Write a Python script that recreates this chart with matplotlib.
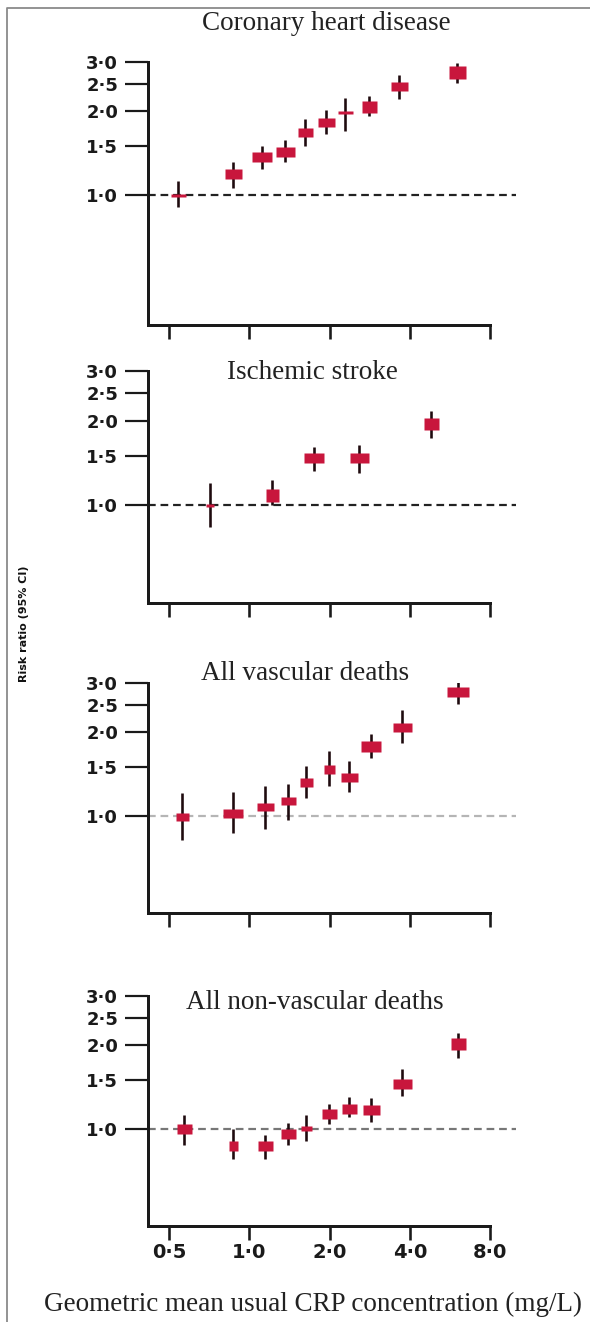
"""
Risk ratio (95% CI) by usual CRP concentration, four panels
"""

import matplotlib
matplotlib.use('Agg')
import matplotlib.pyplot as plt
from matplotlib.ticker import NullLocator
from matplotlib.lines import Line2D

# ---- datos ----
chd_crp = [0.54, 0.87, 1.11, 1.36, 1.61, 1.93, 2.28, 2.82, 3.63, 6.0]
chd_rr = [1.00, 1.19, 1.37, 1.42, 1.68, 1.83, 1.98, 2.07, 2.45, 2.77]
chd_lo = [0.90, 1.06, 1.24, 1.31, 1.50, 1.65, 1.70, 1.92, 2.20, 2.53]
chd_hi = [1.12, 1.31, 1.50, 1.57, 1.87, 2.02, 2.23, 2.26, 2.70, 2.97]
chd_box_w = [15, 17, 20, 19, 15, 17, 15, 15, 17, 17]
chd_box_h = [3, 10, 10, 10, 9, 9, 3, 12, 9, 13]

str_crp = [0.71, 1.21, 1.74, 2.57, 4.79]
str_rr = [1.00, 1.09, 1.47, 1.47, 1.94]
str_lo = [0.84, 1.00, 1.32, 1.30, 1.74]
str_hi = [1.20, 1.23, 1.61, 1.64, 2.17]
str_box_w = [8, 13, 20, 19, 15]
str_box_h = [3, 13, 10, 10, 12]

vas_crp = [0.56, 0.87, 1.14, 1.39, 1.63, 1.99, 2.37, 2.86, 3.75, 6.06]
vas_rr = [0.99, 1.03, 1.08, 1.13, 1.33, 1.48, 1.38, 1.79, 2.09, 2.79]
vas_lo = [0.82, 0.87, 0.90, 0.97, 1.16, 1.28, 1.22, 1.61, 1.83, 2.52]
vas_hi = [1.21, 1.22, 1.28, 1.30, 1.51, 1.71, 1.58, 1.97, 2.41, 3.05]
vas_box_w = [13, 20, 17, 15, 13, 11, 17, 20, 19, 22]
vas_box_h = [8, 9, 8, 8, 9, 9, 9, 11, 9, 10]

nvd_crp = [0.57, 0.87, 1.14, 1.39, 1.63, 1.99, 2.37, 2.86, 3.75, 6.06]
nvd_rr = [1.00, 0.87, 0.87, 0.96, 1.01, 1.13, 1.18, 1.17, 1.45, 2.02]
nvd_lo = [0.88, 0.78, 0.78, 0.88, 0.91, 1.04, 1.11, 1.06, 1.31, 1.80]
nvd_hi = [1.12, 1.00, 0.95, 1.05, 1.12, 1.23, 1.30, 1.29, 1.64, 2.21]
nvd_box_w = [15, 9, 15, 15, 11, 15, 15, 17, 19, 15]
nvd_box_h = [10, 10, 10, 10, 5, 10, 10, 10, 10, 12]

y_ticks = [1.0, 1.5, 2.0, 2.5, 3.0]
y_labels = ['1·0', '1·5', '2·0', '2·5', '3·0']
x_ticks = [0.5, 1.0, 2.0, 4.0, 8.0]
x_labels = ['0·5', '1·0', '2·0', '4·0', '8·0']

ROJO = '#C8163C'
LINEA_IC = '#1e0a0e'
DPI = 100
W, H = 590, 1322


def px(v):
    """pixeles -> puntos"""
    return v * 72 / DPI


def dibujar_panel(ax, crp, rr, lo, hi, bw, bh, ymin, color_ref, etiquetas_x=False):
    ax.set_xscale('log')
    ax.set_yscale('log')
    ax.set_xlim(0.416, 8.0)
    ax.set_ylim(ymin, 3.0)

    # linea de referencia
    ax.plot([0.416, 10.0], [1.0, 1.0], ls=(0, (3.5, 2.2)), color=color_ref,
            lw=px(2.2), clip_on=False, zorder=1)

    # intervalos de confianza
    ax.vlines(crp, lo, hi, color=LINEA_IC, lw=px(2.6), zorder=3)

    # cajas
    for x, y, w, h in zip(crp, rr, bw, bh):
        verts = [(-w, -h), (w, -h), (w, h), (-w, h), (-w, -h)]
        ax.plot([x], [y], marker=verts, markersize=px(max(w, h)),
                color=ROJO, mec='none', zorder=4, clip_on=False)

    for s in ['top', 'right']:
        ax.spines[s].set_visible(False)
    for s in ['left', 'bottom']:
        ax.spines[s].set_linewidth(px(3))
        ax.spines[s].set_color('#1a1a1a')

    ax.set_yticks(y_ticks)
    ax.set_yticklabels(y_labels, fontweight='bold', fontsize=13,
                       family='DejaVu Sans')
    ax.yaxis.set_minor_locator(NullLocator())
    ax.xaxis.set_minor_locator(NullLocator())
    ax.set_xticks(x_ticks)
    if etiquetas_x:
        ax.set_xticklabels(x_labels, fontweight='bold', fontsize=14,
                           family='DejaVu Sans')
    else:
        ax.set_xticklabels([])
    ax.tick_params(axis='y', length=px(23), width=px(2.2), pad=px(7),
                   color='#1a1a1a', labelcolor='#1a1a1a')
    ax.tick_params(axis='x', length=px(14), width=px(2.6), pad=px(3),
                   color='#1a1a1a', labelcolor='#1a1a1a')
    ax.patch.set_alpha(0)


fig = plt.figure(figsize=(W / DPI, H / DPI), dpi=DPI)

left = 148 / W
width = 342 / W
# (top px, bottom px)
posiciones = [(62, 325), (371, 603), (683, 913), (996, 1226)]
axes = []
for top, bot in posiciones:
    axes.append(fig.add_axes([left, 1 - bot / H, width, (bot - top) / H]))

dibujar_panel(axes[0], chd_crp, chd_rr, chd_lo, chd_hi, chd_box_w, chd_box_h,
              0.34, '#222222')
dibujar_panel(axes[1], str_crp, str_rr, str_lo, str_hi, str_box_w, str_box_h,
              0.45, '#222222')
dibujar_panel(axes[2], vas_crp, vas_rr, vas_lo, vas_hi, vas_box_w, vas_box_h,
              0.45, '#b5b5b5')
dibujar_panel(axes[3], nvd_crp, nvd_rr, nvd_lo, nvd_hi, nvd_box_w, nvd_box_h,
              0.45, '#777777', etiquetas_x=True)

# titulos de los paneles
serif = 'Liberation Serif'
titulos = [('Coronary heart disease', 326, 30),
           ('Ischemic stroke', 312, 379),
           ('All vascular deaths', 305, 680),
           ('All non-vascular deaths', 315, 1009)]
for texto, xp, yp in titulos:
    fig.text(xp / W, 1 - yp / H, texto, ha='center', va='baseline',
             fontsize=19.5, family=serif, color='#222222')

fig.text(313 / W, 1 - 1311 / H, 'Geometric mean usual CRP concentration (mg/L)',
         ha='center', va='baseline', fontsize=19.5, family=serif, color='#222222')

fig.text(24 / W, 1 - 624 / H, 'Risk ratio (95% CI)', rotation=90,
         ha='center', va='center', fontsize=8, fontweight='bold',
         family='DejaVu Sans', color='#111111')

# marco gris
fig.add_artist(Line2D([7 / W, 7 / W, 1.0], [0.0, 1 - 8 / H, 1 - 8 / H],
                      transform=fig.transFigure, color='#8a8a8a', lw=px(1.8)))

plt.savefig('out.png', dpi=DPI)
